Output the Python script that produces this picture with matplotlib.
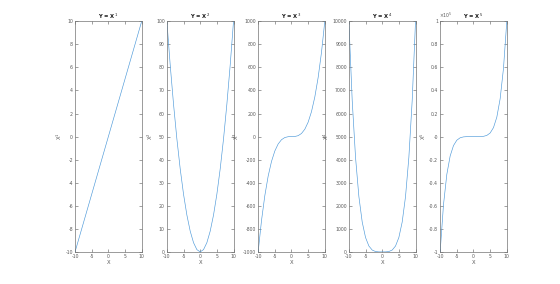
import numpy as np
import matplotlib
matplotlib.use("Agg")
import matplotlib.pyplot as plt

plt.rcParams["axes.unicode_minus"] = False

# sample points (x from -10 to 10)
x = [-10, -9, -8, -7, -6, -5, -4, -3, -2, -1, 0, 1, 2, 3, 4, 5, 6, 7, 8, 9, 10]
y1 = [-10, -9, -8, -7, -6, -5, -4, -3, -2, -1, 0, 1, 2, 3, 4, 5, 6, 7, 8, 9, 10]
y2 = [100, 81, 64, 49, 36, 25, 16, 9, 4, 1, 0, 1, 4, 9, 16, 25, 36, 49, 64, 81, 100]
y3 = [-1000, -729, -512, -343, -216, -125, -64, -27, -8, -1, 0,
      1, 8, 27, 64, 125, 216, 343, 512, 729, 1000]
y4 = [10000, 6561, 4096, 2401, 1296, 625, 256, 81, 16, 1, 0,
      1, 16, 81, 256, 625, 1296, 2401, 4096, 6561, 10000]
y5 = [-100000, -59049, -32768, -16807, -7776, -3125, -1024, -243, -32, -1, 0,
      1, 32, 243, 1024, 3125, 7776, 16807, 32768, 59049, 100000]

series = [y1, y2, y3, y4, y5]
titles = ["Y = X$^{1}$", "Y = X$^{2}$", "Y = X$^{3}$", "Y = X$^{4}$", "Y = X$^{5}$"]
ylabels = ["X$^{1}$", "X$^{2}$", "X$^{3}$", "X$^{4}$", "X$^{5}$"]
ylims = [(-10, 10), (0, 100), (-1000, 1000), (0, 10000), (-1, 1)]
ysteps = [2, 10, 200, 1000, 0.2]
xticks = [-10, -5, 0, 5, 10]

fig = plt.figure(figsize=(5.6, 2.84), dpi=100)
lefts = [0.134, 0.298, 0.461, 0.623, 0.786]
gray = "0.35"
fs = 3.3

for i in range(5):
    ax = fig.add_axes([lefts[i], 0.113, 0.119, 0.812])
    ys = np.array(series[i], dtype=float)
    if i == 4:
        ys = ys / 1e5
    ax.plot(x, ys, color=(0.3, 0.6, 0.85), lw=0.45)
    ax.set_xlim(-10, 10)
    ax.set_ylim(*ylims[i])
    ax.set_xticks(xticks)
    lo, hi = ylims[i]
    ax.set_yticks(np.round(np.arange(lo, hi + ysteps[i] / 2, ysteps[i]), 1))
    if i == 4:
        ax.set_yticklabels(["%g" % t for t in np.round(np.arange(-1, 1.1, 0.2), 1)])
        ax.text(-0.02, 1.005, r"$\times10^{5}$", transform=ax.transAxes,
                fontsize=fs, color=gray, va="bottom", ha="left")
    ax.tick_params(direction="in", top=True, right=True, length=2, width=0.4,
                   labelsize=fs, colors=gray, pad=1.5)
    for s in ax.spines.values():
        s.set_linewidth(0.5)
        s.set_color("0.45")
    ax.set_title(titles[i], fontsize=3.8, fontweight="bold", color="0.1", pad=2)
    ax.set_xlabel("X", fontsize=3.8, color=gray, labelpad=1)
    ax.set_ylabel(ylabels[i], fontsize=3.8, color=gray, labelpad=1)

fig.savefig("out.png", dpi=100)
